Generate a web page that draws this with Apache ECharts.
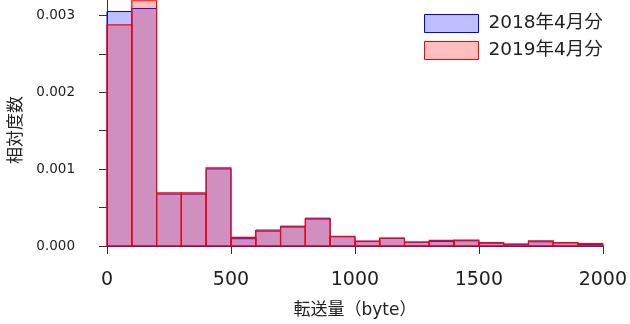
<!DOCTYPE html>
<html>
<head>
<meta charset="utf-8">
<script src="https://cdn.jsdelivr.net/npm/echarts@6/dist/echarts.min.js"></script>
<style>
  html, body { margin: 0; padding: 0; background: #fff; }
  #chart { width: 630px; height: 324px; }
</style>
</head>
<body>
<div id="chart"></div>
<script>
// Histogram bins: lower edges (byte) and common width
const binLower = [0, 100, 200, 300, 400, 500, 600, 700, 800, 900,
                  1000, 1100, 1200, 1300, 1400, 1500, 1600, 1700, 1800, 1900];
const binWidth = 100;

// Relative frequency (density) per bin
const apr2018 = [0.00305, 0.00309, 0.000676, 0.000676, 0.001003, 0.000095, 0.000207, 0.000258, 0.000362, 0.00012,
                 0.00006, 0.0001, 0.00005, 0.00006, 0.000068, 0.000038, 0.000022, 0.000055, 0.000042, 0.000018];
const apr2019 = [0.002876, 0.00319, 0.000692, 0.000692, 0.001016, 0.000111, 0.000194, 0.000245, 0.000349, 0.000125,
                 0.000065, 0.000103, 0.000052, 0.000072, 0.000077, 0.000043, 0.000026, 0.000068, 0.000043, 0.00003];

const xTicks = [0, 500, 1000, 1500, 2000];
const yTicks = [0, 0.0005, 0.001, 0.0015, 0.002, 0.0025, 0.003];
const yLabels = [0, 0.001, 0.002, 0.003];
const seriesNames = ['2018年4月分', '2019年4月分'];

const FONT = "'DejaVu Sans', 'Noto Sans CJK JP', sans-serif";

function toBins(values) {
  return binLower.map((lo, i) => [lo, lo + binWidth, values[i]]);
}

function histRenderer(fill, stroke, width) {
  return function (params, api) {
    const p0 = api.coord([api.value(0), api.value(2)]);
    const p1 = api.coord([api.value(1), 0]);
    return {
      type: 'rect',
      shape: { x: p0[0], y: p0[1], width: p1[0] - p0[0], height: p1[1] - p0[1] },
      style: { fill: fill, stroke: stroke, lineWidth: width }
    };
  };
}

const blueFill = 'rgba(0,0,255,0.25)';
const redFill = 'rgba(255,0,0,0.25)';

const chart = echarts.init(document.getElementById('chart'), null, { renderer: 'canvas' });
chart.setOption({
  animation: false,
  textStyle: { fontFamily: FONT },
  grid: { left: 107, right: 27, top: 0, bottom: 77, containLabel: false },
  legend: {
    orient: 'vertical',
    left: 424,
    top: 14,
    padding: 0,
    itemWidth: 54,
    itemHeight: 18,
    itemGap: 8,
    icon: 'rect',
    textStyle: { fontFamily: FONT, fontSize: 18.5, color: '#222', padding: [0, 0, 0, 5], lineHeight: 19 },
    data: [
      { name: seriesNames[0], itemStyle: { color: blueFill, borderColor: '#0000ff', borderWidth: 1 } },
      { name: seriesNames[1], itemStyle: { color: redFill, borderColor: '#ff0000', borderWidth: 1 } }
    ]
  },
  xAxis: {
    type: 'value',
    min: xTicks[0],
    max: xTicks[xTicks.length - 1],
    interval: 500,
    offset: 10,
    splitLine: { show: false },
    axisLine: { show: true, lineStyle: { color: '#333', width: 1 } },
    axisTick: { show: true, length: 8, lineStyle: { color: '#333' } },
    axisLabel: { fontFamily: FONT, fontSize: 19, color: '#222', margin: 15, formatter: v => String(v) },
    name: '転送量（byte）',
    nameLocation: 'middle',
    nameGap: 46,
    nameTextStyle: { fontFamily: FONT, fontSize: 17, color: '#222' }
  },
  yAxis: {
    type: 'value',
    min: 0,
    max: 0.0032,
    offset: 20,
    splitLine: { show: false },
    axisLine: { show: true, lineStyle: { color: '#333', width: 1 } },
    axisTick: { show: true, length: 8, lineStyle: { color: '#333' }, customValues: yTicks },
    axisLabel: {
      fontFamily: FONT, fontSize: 13.5, color: '#222', margin: 12,
      customValues: yLabels,
      formatter: v => v.toFixed(3)
    },
    name: '相対度数',
    nameLocation: 'middle',
    nameGap: 62,
    nameTextStyle: { fontFamily: FONT, fontSize: 17, color: '#222', padding: [0, 14, 0, 0] }
  },
  series: [
    {
      name: seriesNames[0],
      type: 'custom',
      renderItem: histRenderer(blueFill, '#0000ff', 1),
      itemStyle: { color: blueFill, borderColor: '#0000ff', borderWidth: 1 },
      encode: { x: [0, 1], y: 2 },
      data: toBins(apr2018),
      clip: false,
      z: 2
    },
    {
      name: seriesNames[1],
      type: 'custom',
      renderItem: histRenderer(redFill, '#ff0000', 1.2),
      itemStyle: { color: redFill, borderColor: '#ff0000', borderWidth: 1 },
      encode: { x: [0, 1], y: 2 },
      data: toBins(apr2019),
      clip: false,
      z: 3
    }
  ]
});
</script>
</body>
</html>
